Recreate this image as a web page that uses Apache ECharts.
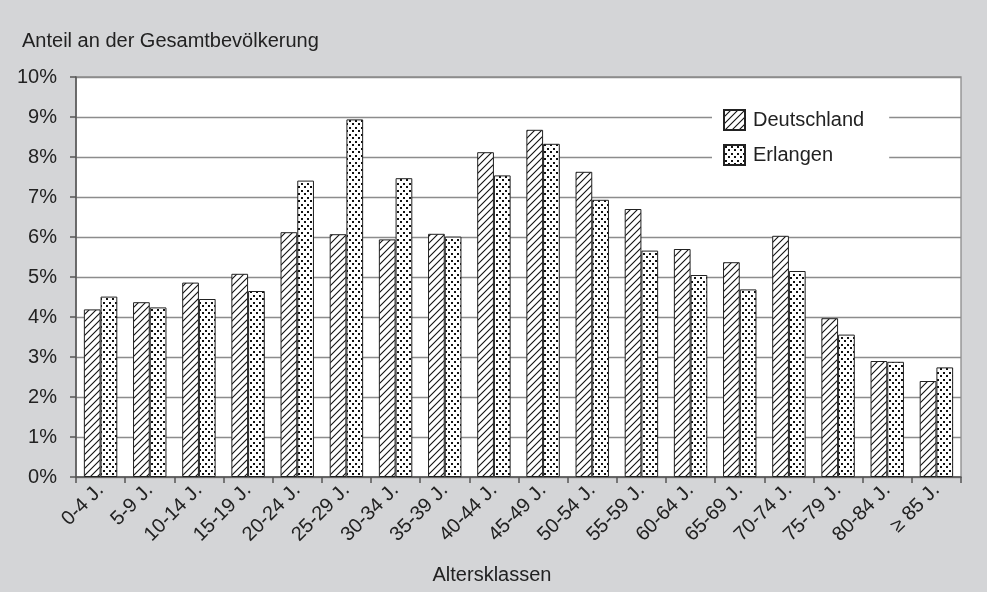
<!DOCTYPE html>
<html>
<head>
<meta charset="utf-8">
<script src="https://cdn.jsdelivr.net/npm/echarts@6/dist/echarts.min.js"></script>
<style>
  html, body { margin: 0; padding: 0; background: #d4d5d7; }
  #chart { width: 987px; height: 592px; }
</style>
</head>
<body>
<div id="chart"></div>
<script>
// Age groups and population shares (percent)
const ageGroups = ['0-4 J.', '5-9 J.', '10-14 J.', '15-19 J.', '20-24 J.', '25-29 J.',
  '30-34 J.', '35-39 J.', '40-44 J.', '45-49 J.', '50-54 J.', '55-59 J.', '60-64 J.',
  '65-69 J.', '70-74 J.', '75-79 J.', '80-84 J.', '≥ 85 J.'];
const deutschland = [4.19, 4.37, 4.86, 5.08, 6.12, 6.07, 5.94, 6.08, 8.12, 8.68,
  7.63, 6.70, 5.70, 5.37, 6.03, 3.97, 2.90, 2.40];
const erlangen = [4.51, 4.24, 4.45, 4.65, 7.41, 8.94, 7.47, 6.01, 7.54, 8.33,
  6.93, 5.66, 5.05, 4.69, 5.15, 3.56, 2.88, 2.74];
const yTicks = [0, 1, 2, 3, 4, 5, 6, 7, 8, 9, 10];

const FONT = '"Liberation Sans", Arial, sans-serif';
const TEXT = '#222';
const FS = 20;

// Fill patterns: diagonal hatch and dot grid
function hatchPattern() {
  const s = 7;
  const c = document.createElement('canvas');
  c.width = s; c.height = s;
  const g = c.getContext('2d');
  g.fillStyle = '#fff';
  g.fillRect(0, 0, s, s);
  g.strokeStyle = '#111';
  g.lineWidth = 1.1;
  g.beginPath();
  g.moveTo(-1, s + 1); g.lineTo(s + 1, -1);
  g.moveTo(-1, 1); g.lineTo(1, -1);
  g.moveTo(s - 1, s + 1); g.lineTo(s + 1, s - 1);
  g.stroke();
  return c;
}
function dotPattern() {
  const w = 6, h = 7;
  const c = document.createElement('canvas');
  c.width = w; c.height = h;
  const g = c.getContext('2d');
  g.fillStyle = '#fff';
  g.fillRect(0, 0, w, h);
  g.fillStyle = '#111';
  g.fillRect(1, 1, 2, 2);
  g.fillRect(4, 4, 2, 2);
  return c;
}

const chart = echarts.init(document.getElementById('chart'), null, { renderer: 'canvas' });

chart.setOption({
  backgroundColor: '#d4d5d7',
  animation: false,
  textStyle: { fontFamily: FONT, color: TEXT },
  title: {
    text: 'Anteil an der Gesamtbevölkerung',
    left: 17, top: 26,
    textStyle: { fontFamily: FONT, fontSize: FS, fontWeight: 'normal', color: TEXT }
  },
  legend: {
    orient: 'vertical',
    left: 712, top: 99,
    padding: [10, 25, 10, 11],
    backgroundColor: '#fff',
    itemWidth: 21, itemHeight: 20, itemGap: 13,
    icon: 'rect',
    textStyle: { fontFamily: FONT, fontSize: FS, color: TEXT, padding: [0, 0, 0, 3] },
    data: ['Deutschland', 'Erlangen']
  },
  grid: {
    left: 76, right: 26, top: 77, bottom: 115,
    show: true, backgroundColor: '#fff', borderColor: '#8c8c8c', borderWidth: 1.3
  },
  xAxis: {
    type: 'category',
    data: ageGroups,
    boundaryGap: true,
    name: 'Altersklassen',
    nameLocation: 'middle',
    nameGap: 88,
    nameTextStyle: { fontFamily: FONT, fontSize: FS, color: TEXT, padding: [0, 53, 0, 0] },
    axisLine: { lineStyle: { color: '#555', width: 1.5 } },
    axisTick: { show: true, alignWithLabel: false, length: 6, lineStyle: { color: '#555', width: 1.5 } },
    axisLabel: { rotate: 45, interval: 0, margin: 10, fontFamily: FONT, fontSize: FS, color: TEXT }
  },
  yAxis: {
    type: 'value',
    min: yTicks[0], max: yTicks[yTicks.length - 1], interval: 1,
    axisLine: { show: true, lineStyle: { color: '#555', width: 1.5 } },
    axisTick: { show: true, length: 6, lineStyle: { color: '#555', width: 1.5 } },
    axisLabel: { formatter: '{value}%', margin: 19, fontFamily: FONT, fontSize: FS, color: TEXT },
    splitLine: { show: true, lineStyle: { color: '#8c8c8c', width: 1.3 } }
  },
  series: [
    {
      name: 'Deutschland',
      type: 'bar',
      data: deutschland,
      barGap: '0%',
      barCategoryGap: '32%',
      itemStyle: { color: { image: hatchPattern(), repeat: 'repeat' }, borderColor: '#222', borderWidth: 1 }
    },
    {
      name: 'Erlangen',
      type: 'bar',
      data: erlangen,
      barGap: '0%',
      barCategoryGap: '32%',
      itemStyle: { color: { image: dotPattern(), repeat: 'repeat' }, borderColor: '#222', borderWidth: 1 }
    }
  ]
});
</script>
</body>
</html>
